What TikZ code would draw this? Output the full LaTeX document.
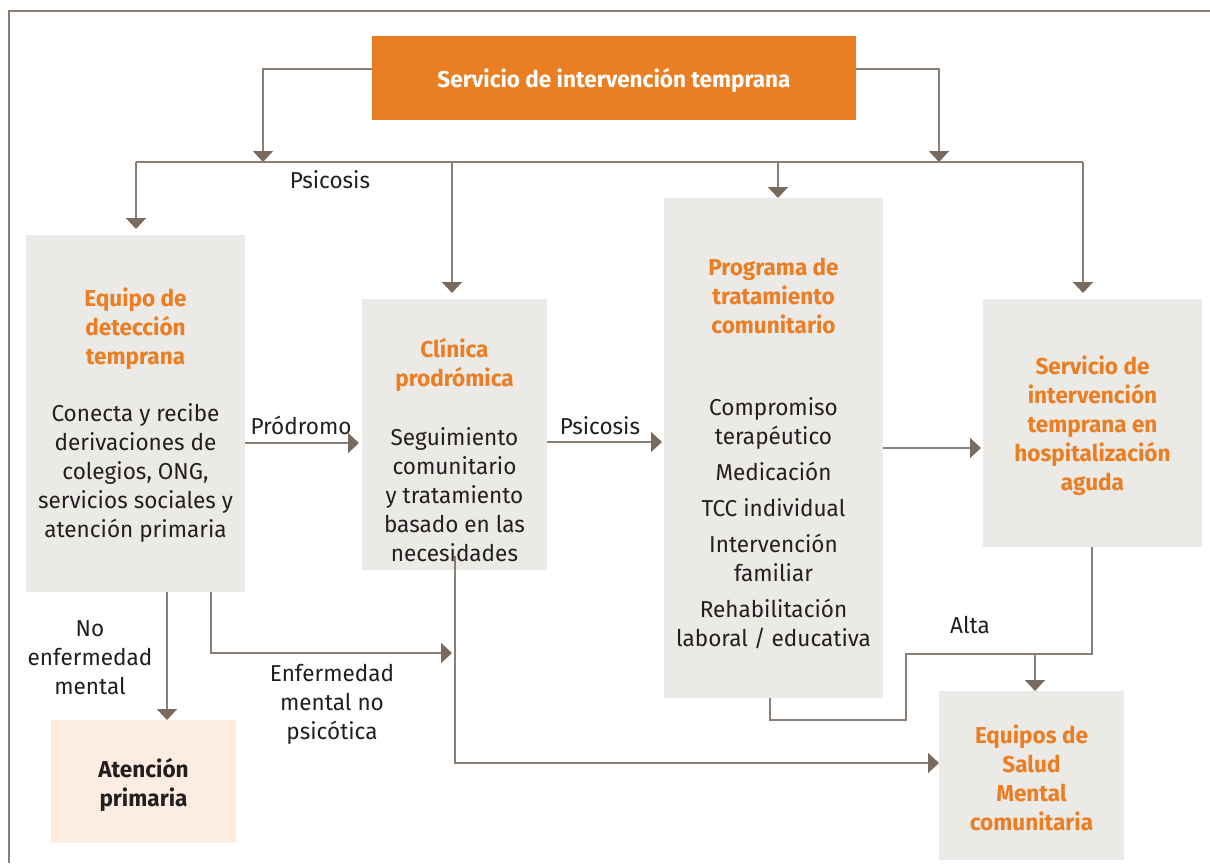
\documentclass[tikz,border=0pt]{standalone}
\usepackage{fontspec}
\setmainfont{Fira Sans}[FakeStretch=0.98]
\usetikzlibrary{arrows.meta}
\definecolor{orng}{HTML}{E97E22}
\definecolor{otext}{HTML}{EB7D22}
\definecolor{gbox}{HTML}{ECEAE6}
\definecolor{pbox}{HTML}{FCEDE0}
\definecolor{lnc}{HTML}{8A7E75}
\definecolor{arc}{HTML}{7A6A5E}
\definecolor{txt}{HTML}{231F20}
\begin{document}
\begin{tikzpicture}[x=0.5pt,y=-0.5pt,
  rect/.style={draw=none,inner sep=0pt,outer sep=0pt},
  graybox/.style={rect,fill=gbox},
  ttl/.style={font=\fontsize{11.5}{14.5}\selectfont\bfseries,text=otext,align=center,inner sep=0pt},
  bdy/.style={font=\fontsize{11.5}{14.5}\selectfont,text=txt,align=center,inner sep=0pt},
  conn/.style={draw=lnc,line width=0.9pt},
  arr/.style={conn,-{Triangle[width=10pt,length=5.5pt,color=arc]}},
  frameline/.style={draw=lnc,line width=0.8pt}]
\useasboundingbox (0,0) rectangle (1210,863);
% frame
\coordinate (fTR) at (1210,11);
\coordinate (fTL) at (9,11);
\coordinate (fBL) at (9,863);
\draw[frameline] (fTR) -- (fTL) -- (fBL);

% boxes
\node[rect,fill=orng,minimum width=242pt,minimum height=42pt] (top) at (614,78) {};
\node[font=\fontsize{11.5}{14.5}\selectfont\bfseries,text=white,inner sep=0pt] (topT) at (614,80) {Servicio de intervención temprana};

\node[graybox,minimum width=109.5pt,minimum height=178.5pt] (eq) at (135.5,413.5) {};
\node[ttl] (eqT) at (135.5,329) {Equipo de\\detección\\temprana};
\node[bdy] (eqB) at (135.5,473) {Conecta y recibe\\derivaciones de\\colegios, ONG,\\servicios sociales y\\atención primaria};

\node[graybox,minimum width=92.5pt,minimum height=135.5pt] (cl) at (454.5,434.5) {};
\node[ttl] (clT) at (454.5,364.5) {Clínica\\prodrómica};
\node[bdy] (clB) at (454.5,494.5) {Seguimiento\\comunitario\\y tratamiento\\basado en las\\necesidades};

\node[graybox,minimum width=109.5pt,minimum height=250pt] (pr) at (773.5,448) {};
\node[ttl] (prT) at (773.5,295.5) {Programa de\\tratamiento\\comunitario};
\node[bdy] (prB) at (773.5,523.5) {Compromiso\\terapéutico\\[3.5pt]Medicación\\[3.5pt]TCC individual\\[3.5pt]Intervención\\familiar\\[3.5pt]Rehabilitación\\laboral / educativa};

\node[graybox,minimum width=109.5pt,minimum height=124pt] (sh) at (1092.5,423) {};
\node[ttl] (shT) at (1092.5,426) {Servicio de\\intervención\\temprana en\\hospitalización\\aguda};

\node[rect,fill=pbox,minimum width=92.5pt,minimum height=61.5pt] (at) at (143.5,781.5) {};
\node[font=\fontsize{11.5}{14.5}\selectfont\bfseries,text=txt,align=center,inner sep=0pt] (atT) at (143.5,784.5) {Atención\\primaria};

\node[graybox,minimum width=92.5pt,minimum height=84.5pt] (sm) at (1031.5,775.5) {};
\node[ttl] (smT) at (1031.5,778) {Equipos de\\Salud\\Mental\\comunitaria};

% labels
\node[bdy] (lPs1) at (330,180) {Psicosis};
\node[bdy] (lPro) at (301,425.5) {Pródromo};
\node[bdy] (lPs2) at (600,425.5) {Psicosis};
\node[bdy] (lNo) at (90,657.5) {No\\enfermedad\\mental};
\node[bdy] (lEn) at (332,704.5) {Enfermedad\\mental no\\psicótica};
\node[bdy] (lAl) at (970,625.5) {Alta};

% coordinates
\coordinate (j1) at (263,162);
\coordinate (j2) at (939,162);
\coordinate (bA) at (136,162);
\coordinate (bB) at (452,162);
\coordinate (bC) at (778,162);
\coordinate (bD) at (1083,162);
\coordinate (yPro) at (0,443);
\coordinate (yPs) at (0,442);
\coordinate (yHo) at (0,448);
\coordinate (xAt) at (167,0);
\coordinate (xEn) at (211,0);
\coordinate (kEn) at (211,653);
\coordinate (tEn) at (452,653);
\coordinate (sCl) at (455,556);
\coordinate (kCl) at (455,763);
\coordinate (xPr) at (770,0);
\coordinate (k1) at (770,720);
\coordinate (k2) at (906,720);
\coordinate (k3) at (906,654);
\coordinate (k4) at (1092,654);
\coordinate (kA) at (1035,654);

% connectors
\draw[arr] ([yshift=4.5pt]top.west) -| (j1);
\draw[arr] ([yshift=4.5pt]top.east) -| (j2);
\draw[conn] (bA) -- (bD);
\draw[arr,shorten >=3pt] (bA) -- (bA |- eq.north);
\draw[arr,shorten >=3pt] (bB) -- (bB |- cl.north);
\draw[arr] (bC) -- (bC |- pr.north);
\draw[arr,shorten >=3pt] (bD) -- (bD |- sh.north);

\draw[arr,shorten >=1.5pt] (eq.east |- yPro) -- (cl.west |- yPro);
\draw[arr,shorten >=1pt] (cl.east |- yPs) -- (pr.west |- yPs);
\draw[arr,shorten >=1pt] (pr.east |- yHo) -- (sh.west |- yHo);

\draw[arr] (eq.south -| xAt) -- (at.north -| xAt);
\draw[arr] (eq.south -| xEn) -- (kEn) -- (tEn);
\draw[arr] (sCl) -- (kCl) -- (kCl -| sm.west);

\draw[conn] (pr.south -| xPr) -- (k1) -- (k2) -- (k3) -- (k4) -- (k4 |- sh.south);
\draw[arr] (kA) -- (kA |- sm.north);
\end{tikzpicture}
\end{document}
